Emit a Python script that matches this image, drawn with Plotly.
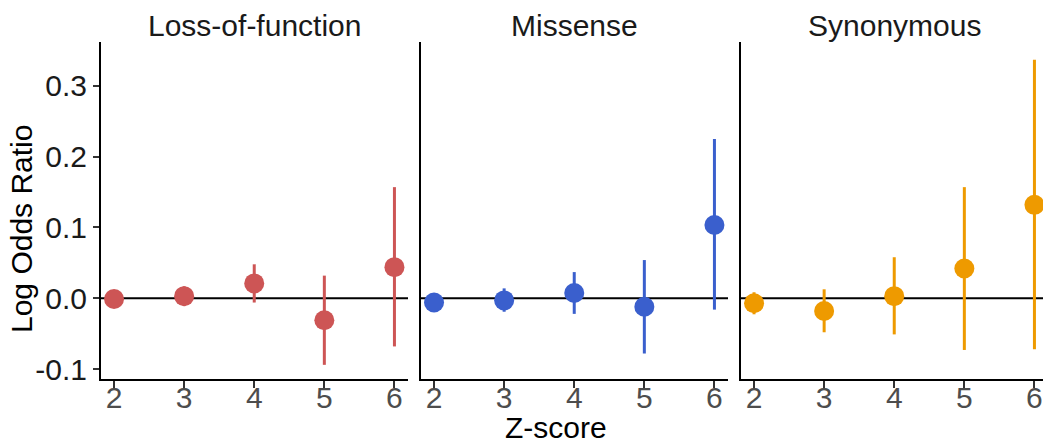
import plotly.graph_objects as go

# Z-score thresholds shared by every panel
z_scores = [2, 3, 4, 5, 6]

# Log odds ratio estimates with their confidence bounds
lof_est = [-0.001, 0.003, 0.021, -0.031, 0.044]
lof_lo = [-0.006, -0.011, -0.006, -0.094, -0.068]
lof_hi = [0.004, 0.017, 0.048, 0.032, 0.157]

mis_est = [-0.006, -0.003, 0.0075, -0.012, 0.1035]
mis_lo = [-0.010, -0.019, -0.022, -0.078, -0.016]
mis_hi = [-0.002, 0.014, 0.037, 0.054, 0.225]

syn_est = [-0.007, -0.018, 0.003, 0.042, 0.132]
syn_lo = [-0.0226, -0.048, -0.051, -0.073, -0.072]
syn_hi = [0.0085, 0.0127, 0.058, 0.157, 0.337]

panel_titles = ["Loss-of-function", "Missense", "Synonymous"]
panel_colors = ["#CD5555", "#3A5FCD", "#EE9A00"]

y_ticks = [-0.1, 0.0, 0.1, 0.2, 0.3]
y_tick_text = ["-0.1", "0.0", "0.1", "0.2", "0.3"]

FONT = "Liberation Sans, Arial, Helvetica, sans-serif"
FS = 30

W, H = 1043, 445
ML, MR, MT, MB = 101, 0, 42, 66
plot_w = W - ML - MR

# panel pixel extents (left, right) inside the figure
panel_px = [(101, 408), (421, 728), (741, 1043)]
px_per_unit = 70.1
x_lo = 1.814

fig = go.Figure()

series = [
    (lof_est, lof_lo, lof_hi),
    (mis_est, mis_lo, mis_hi),
    (syn_est, syn_lo, syn_hi),
]

for i, ((est, lo, hi), color) in enumerate(zip(series, panel_colors)):
    suffix = "" if i == 0 else str(i + 1)
    fig.add_trace(
        go.Scatter(
            x=z_scores,
            y=est,
            mode="markers",
            marker=dict(color=color, size=20, line=dict(width=0)),
            error_y=dict(
                type="data",
                symmetric=False,
                array=[h - e for h, e in zip(hi, est)],
                arrayminus=[e - l for e, l in zip(est, lo)],
                color=color,
                thickness=3,
                width=0,
            ),
            xaxis="x" + suffix,
            yaxis="y" + suffix,
            cliponaxis=False,
            showlegend=False,
        )
    )

    left, right = panel_px[i]
    d0 = (left - ML) / plot_w
    d1 = min((right - ML) / plot_w, 1.0)
    x_hi = x_lo + (right - left) / px_per_unit

    xaxis = dict(
        domain=[d0, d1],
        range=[x_lo, x_hi],
        tickvals=z_scores,
        ticktext=[str(z) for z in z_scores],
        ticks="outside",
        ticklen=7,
        tickwidth=2,
        tickcolor="#333333",
        ticklabelstandoff=-16,
        tickfont=dict(family=FONT, size=FS, color="#4D4D4D"),
        showline=True,
        linecolor="black",
        linewidth=2,
        showgrid=False,
        zeroline=False,
        anchor="y" + suffix,
    )
    yaxis = dict(
        range=[-0.114, 0.362],
        showline=True,
        linecolor="black",
        linewidth=2,
        showgrid=False,
        zeroline=False,
        anchor="x" + suffix,
    )
    if i == 0:
        yaxis.update(
            tickvals=y_ticks,
            ticktext=y_tick_text,
            ticks="outside",
            ticklen=6,
            tickwidth=2,
            tickcolor="#333333",
            tickfont=dict(family=FONT, size=FS, color="#1A1A1A"),
        )
    else:
        yaxis.update(showticklabels=False, ticks="")

    fig.update_layout({"xaxis" + suffix: xaxis, "yaxis" + suffix: yaxis})

    # reference line at zero across the panel
    fig.add_shape(
        type="line",
        xref="x" + suffix + " domain",
        yref="y" + suffix,
        x0=0,
        x1=1,
        y0=0,
        y1=0,
        line=dict(color="black", width=2),
        layer="below",
    )

    # panel title
    fig.add_annotation(
        x=(d0 + d1) / 2 if i < 2 else ((left + 1048) / 2 - ML) / plot_w,
        y=1.0,
        xref="paper",
        yref="paper",
        yshift=17,
        text=panel_titles[i],
        showarrow=False,
        font=dict(family=FONT, size=FS, color="#1A1A1A"),
        xanchor="center",
        yanchor="middle",
    )

# axis titles
fig.add_annotation(
    x=(22 - ML) / plot_w,
    y=(H - MB - 229) / (H - MT - MB),
    xref="paper",
    yref="paper",
    text="Log Odds Ratio",
    textangle=-90,
    showarrow=False,
    font=dict(family=FONT, size=FS, color="black"),
    xanchor="center",
    yanchor="middle",
)
fig.add_annotation(
    x=(556 - ML) / plot_w,
    y=-(427 - (H - MB)) / (H - MT - MB),
    xref="paper",
    yref="paper",
    text="Z-score",
    showarrow=False,
    font=dict(family=FONT, size=FS, color="black"),
    xanchor="center",
    yanchor="middle",
)

fig.update_layout(
    width=W,
    height=H,
    margin=dict(l=ML, r=MR, t=MT, b=MB),
    paper_bgcolor="white",
    plot_bgcolor="white",
    font=dict(family=FONT),
)

fig.write_html("out.html")
